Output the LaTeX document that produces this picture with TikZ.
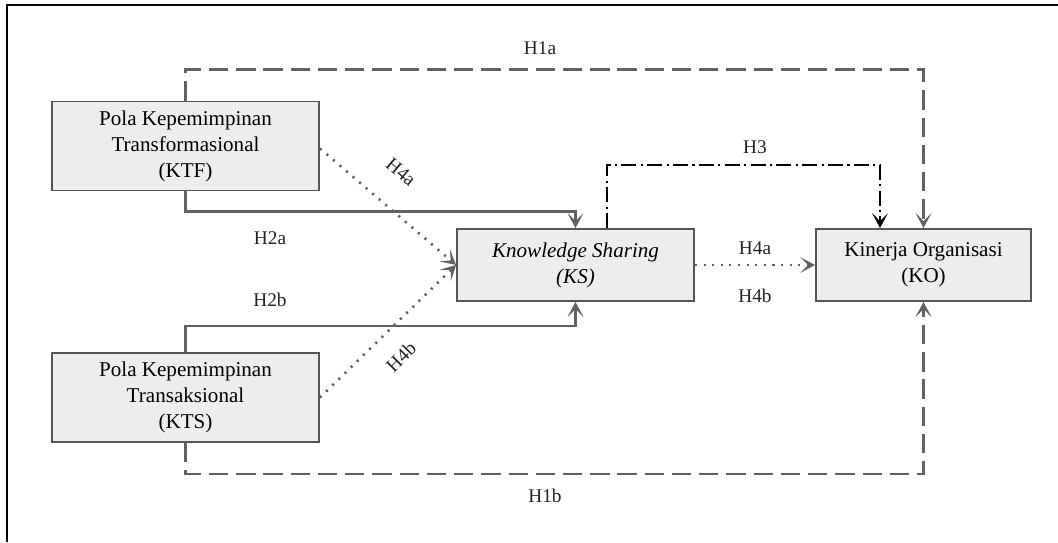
\documentclass[tikz,border=0pt]{standalone}
\usepackage{fontspec}
\setmainfont{Liberation Serif}
\usetikzlibrary{arrows.meta,calc,positioning}
\definecolor{boxgray}{HTML}{555555}
\definecolor{boxfill}{HTML}{EDEDED}
\definecolor{linegray}{HTML}{626262}
\definecolor{labeltext}{HTML}{1E262B}

\begin{document}
\begin{tikzpicture}[x=0.02cm,y=-0.02cm,
    box/.style={draw=boxgray, fill=boxfill, line width=1.1pt, align=center,
        inner sep=0pt, font=\fontsize{12}{14.8}\selectfont},
    lbl/.style={font=\fontsize{11}{13}\selectfont, text=labeltext, inner sep=1pt},
    tip/.style={-{Stealth[length=8.5pt,width=9pt,inset=4.5pt]}},
    solidlink/.style={tip, draw=linegray, line width=1.2pt},
    longdash/.style={tip, draw=linegray, line width=1.3pt, dash pattern=on 11pt off 4.5pt},
    dotlink/.style={tip, draw=linegray, line width=1.5pt, dash pattern=on 1.2pt off 3.7pt},
    dashdot/.style={tip, draw=black, line width=1.3pt, dash pattern=on 8.5pt off 2.5pt on 1.2pt off 2.5pt}]
    \useasboundingbox (0,0) rectangle (1058,542);
    \fill[white] (0,0) rectangle (1058,542);
    % frame
    \draw[line width=1.4pt] (7,542) -- (7,5) -- (1058,5);

    % boxes
    \node[box, minimum width=5.34cm, minimum height=1.78cm] (ktf) at (185.5,146) {Pola Kepemimpinan\\Transformasional\\(KTF)};
    \node[box, minimum width=5.34cm, minimum height=1.78cm] (kts) at (185.5,397.5) {Pola Kepemimpinan\\Transaksional\\(KTS)};
    \node[box, minimum width=4.74cm, minimum height=1.44cm] (ks) at (575.5,265) {\itshape Knowledge Sharing\\\itshape (KS)};
    \node[box, minimum width=4.30cm, minimum height=1.44cm] (ko) at (923.5,265) {Kinerja Organisasi\\(KO)};

    % H1a / H1b
    \draw[longdash] (ktf.north) -- ++(0,-31) -| (ko.north);
    \draw[longdash] (kts.south) -- ++(0,31) -| (ko.south);
    % H2a / H2b
    \draw[solidlink] (ktf.south) -- ++(0,20) -| (ks.north);
    \draw[solidlink] (kts.north) -- ++(0,-26) -| (ks.south);
    % H3
    \draw[dashdot] ($(ks.north)+(31.5,0)$) -- ++(0,-63) -| ($(ko.north)+(-43.5,0)$);
    % H4
    \draw[dotlink] ($(ktf.east)+(0,2.5)$) -- (ks.west);
    \draw[dotlink] (kts.east) -- (ks.west);
    \draw[dotlink] (ks.east) -- (ko.west);

    % labels
    \node[lbl] (h1a) at (540,48) {H1a};
    \node[lbl] (h1b) at (545,496) {H1b};
    \node[lbl] (h2a) at (270,238) {H2a};
    \node[lbl] (h2b) at (270,300) {H2b};
    \node[lbl] (h3) at (755,147) {H3};
    \node[lbl, rotate=-40] (h4a) at (401,172) {H4a};
    \node[lbl, rotate=45] (h4b) at (401,357) {H4b};
    \node[lbl] (h4am) at (755,248) {H4a};
    \node[lbl] (h4bm) at (755,296) {H4b};
\end{tikzpicture}
\end{document}
